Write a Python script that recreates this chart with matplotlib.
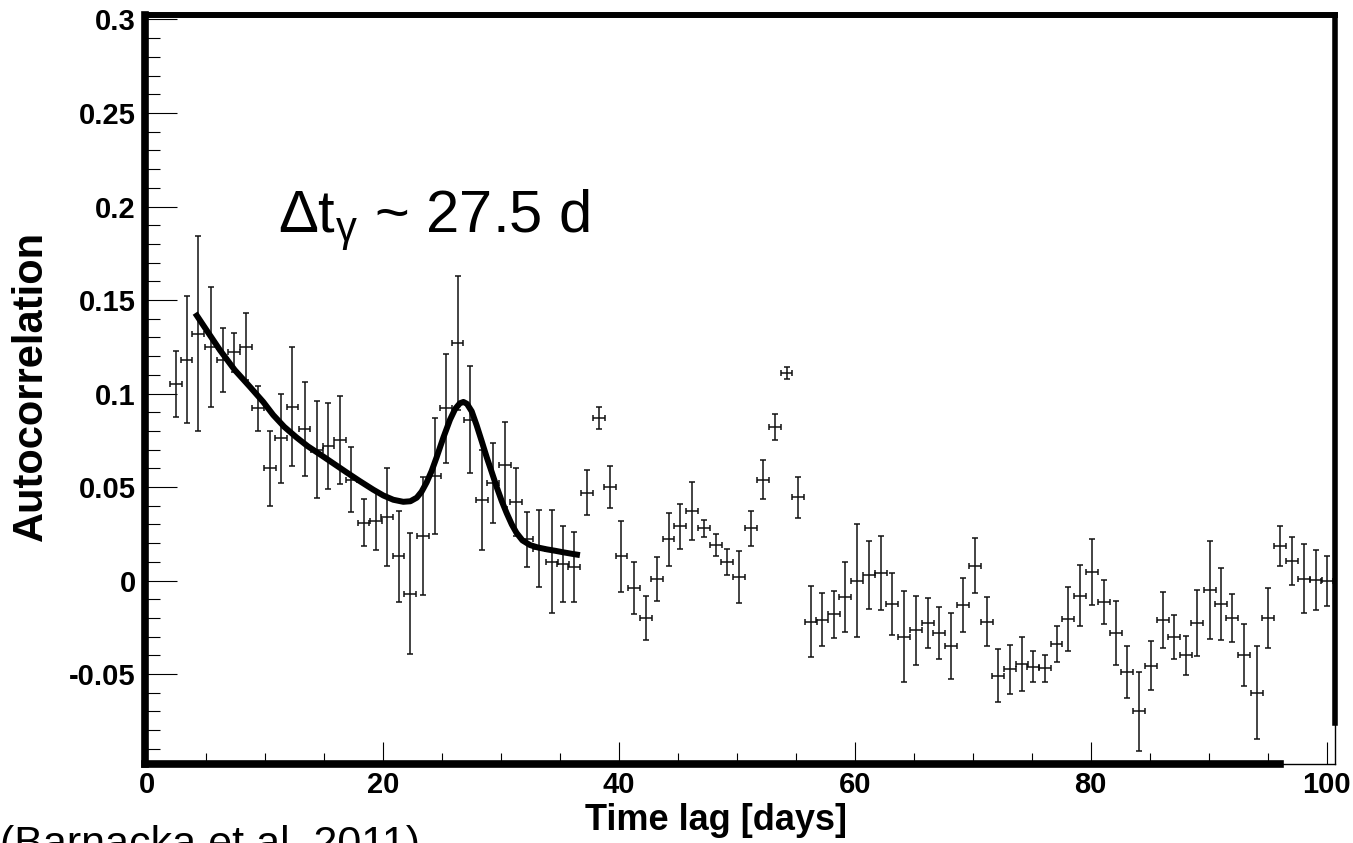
import numpy as np
import matplotlib
matplotlib.use('Agg')
import matplotlib.pyplot as plt
from matplotlib.ticker import MultipleLocator, FuncFormatter

plt.rcParams['font.family'] = ['Liberation Sans', 'DejaVu Sans']
plt.rcParams['mathtext.fontset'] = 'custom'
plt.rcParams['mathtext.rm'] = 'Liberation Sans'
plt.rcParams['mathtext.it'] = 'Liberation Sans:italic'
plt.rcParams['axes.unicode_minus'] = False

# time lag of each autocorrelation bin [days]
lag = [2.40, 3.32, 4.30, 5.37, 6.37, 7.37, 8.35, 9.35, 10.37, 11.35,
       12.30, 13.32, 14.35, 15.35, 16.30, 17.30, 18.33, 19.37, 20.30, 21.30,
       22.26, 23.34, 24.36, 25.30, 26.30, 27.35, 28.35, 29.33, 30.30, 31.26,
       32.20, 33.23, 34.28, 35.27, 36.20, 37.25, 38.30, 39.25, 40.20, 41.26,
       42.28, 43.24, 44.20, 45.17, 46.20, 47.20, 48.20, 49.18, 50.20, 51.19,
       52.23, 53.20, 54.20, 55.20, 56.25, 57.20, 58.20, 59.19, 60.15, 61.20,
       62.20, 63.17, 64.14, 65.16, 66.17, 67.16, 68.15, 69.14, 70.20, 71.18,
       72.16, 73.13, 74.15, 75.10, 76.10, 77.10, 78.10, 79.10, 80.14, 81.13,
       82.12, 83.10, 84.12, 85.10, 86.10, 87.07, 88.06, 89.04, 90.12, 91.05,
       92.00, 93.03, 94.08, 95.06, 96.05, 97.10, 98.10, 99.08, 100.07]

acf = [0.105, 0.118, 0.132, 0.125, 0.118, 0.122, 0.125, 0.092, 0.060, 0.076,
       0.093, 0.081, 0.070, 0.072, 0.075, 0.054, 0.031, 0.032, 0.034, 0.013,
       -0.007, 0.024, 0.056, 0.092, 0.127, 0.086, 0.043, 0.052, 0.062, 0.042,
       0.022, 0.017, 0.010, 0.009, 0.007, 0.047, 0.087, 0.050, 0.013, -0.004,
       -0.020, 0.001, 0.022, 0.029, 0.037, 0.028, 0.019, 0.010, 0.002, 0.028,
       0.054, 0.082, 0.111, 0.0445, -0.022, -0.021, -0.018, -0.009, 0.000, 0.003,
       0.004, -0.0125, -0.030, -0.0265, -0.0225, -0.028, -0.035, -0.013, 0.008, -0.022,
       -0.051, -0.0475, -0.0445, -0.046, -0.047, -0.034, -0.0205, -0.008, 0.0045, -0.0115,
       -0.028, -0.049, -0.070, -0.0455, -0.021, -0.030, -0.040, -0.0225, -0.005, -0.0125,
       -0.020, -0.040, -0.060, -0.020, 0.0185, 0.0105, 0.001, 0.0003, -0.0003]

acf_err = [0.0175, 0.034, 0.052, 0.032, 0.017, 0.0105, 0.018, 0.012, 0.020, 0.024,
           0.032, 0.025, 0.026, 0.023, 0.0235, 0.0173, 0.0125, 0.0156, 0.026, 0.0243,
           0.0323, 0.0315, 0.031, 0.029, 0.036, 0.0286, 0.0266, 0.0214, 0.0229, 0.018,
           0.0147, 0.0207, 0.0275, 0.0204, 0.0187, 0.012, 0.0058, 0.0111, 0.019, 0.0141,
           0.0116, 0.0118, 0.0143, 0.012, 0.0155, 0.0045, 0.006, 0.0069, 0.0138, 0.0093,
           0.0105, 0.007, 0.0034, 0.011, 0.0189, 0.0142, 0.0126, 0.0187, 0.0303, 0.018,
           0.020, 0.0168, 0.0243, 0.0184, 0.0134, 0.0138, 0.0175, 0.0146, 0.0145, 0.013,
           0.0142, 0.0133, 0.0143, 0.0084, 0.0071, 0.0098, 0.017, 0.0163, 0.0176, 0.012,
           0.0173, 0.0138, 0.021, 0.0132, 0.015, 0.0117, 0.0103, 0.0176, 0.026, 0.0192,
           0.013, 0.0165, 0.0248, 0.016, 0.0107, 0.0128, 0.0186, 0.016, 0.0133]

bin_half = 0.5  # half width of a lag bin [days]

# fitted model
fit_lag = [4.05, 5.0, 6.15, 7.4, 8.69, 9.82, 10.67, 11.6, 12.65, 13.6, 14.63, 15.8,
           16.9, 18.0, 19.15, 20.0, 20.85, 21.7, 22.3, 22.84, 23.25, 23.68, 24.1,
           24.53, 25.1, 25.66, 26.1, 26.5, 26.8, 27.1, 27.5, 27.92, 28.35, 28.77,
           29.2, 29.62, 30.05, 30.47, 30.9, 31.3, 31.8, 32.44, 33.1, 33.86, 34.6,
           35.27, 36.0, 36.68]
fit_acf = [0.143, 0.134, 0.1232, 0.1126, 0.1036, 0.0955, 0.0885, 0.0822, 0.0765, 0.0718,
           0.0675, 0.0625, 0.0578, 0.0532, 0.0486, 0.0455, 0.0432, 0.0421, 0.0424, 0.0443,
           0.0475, 0.0525, 0.0585, 0.0660, 0.0765, 0.0860, 0.0918, 0.0948, 0.0955, 0.0945,
           0.0905, 0.0830, 0.0745, 0.0660, 0.0580, 0.0500, 0.0425, 0.0360, 0.0300, 0.0255,
           0.0215, 0.0190, 0.0177, 0.0167, 0.0159, 0.0151, 0.0143, 0.0136]

fig = plt.figure(figsize=(13.53, 8.43), dpi=100)
ax = fig.add_axes([0.1075, 0.0937, 0.8792, 0.8885])

ax.errorbar(lag, acf, xerr=bin_half, yerr=acf_err, fmt='none', ecolor='#111111',
            elinewidth=1.1, capsize=2.3, capthick=1.1, zorder=2)
ax.plot(fit_lag, fit_acf, color='black', lw=4.3, solid_capstyle='butt',
        solid_joinstyle='round', zorder=3)

ax.set_xlim(-0.17, 100.72)
ax.set_ylim(-0.0981, 0.3024)

ax.xaxis.set_major_locator(MultipleLocator(20))
ax.xaxis.set_minor_locator(MultipleLocator(5))
ax.yaxis.set_major_locator(MultipleLocator(0.05))
ax.yaxis.set_minor_locator(MultipleLocator(0.01))
ax.yaxis.set_major_formatter(FuncFormatter(lambda v, p: f'{round(v, 3):g}'))
ax.xaxis.set_major_formatter(FuncFormatter(lambda v, p: f'{round(v):d}'))

ax.tick_params(axis='both', which='both', direction='in', top=False, right=False,
               width=0.8, color='black')
ax.tick_params(axis='y', which='major', length=23, pad=7, labelsize=21)
ax.tick_params(axis='y', which='minor', length=11)
ax.tick_params(axis='x', which='major', length=16, pad=5, labelsize=21)
ax.tick_params(axis='x', which='minor', length=8)
for lbl in ax.get_xticklabels() + ax.get_yticklabels():
    lbl.set_fontweight('bold')

for s in ax.spines.values():
    s.set_linewidth(1.0)
    s.set_color('black')

# thick ROOT-style frame (bottom-right corner is left thin as in the original)
ax.plot([0, 0], [0, 1], transform=ax.transAxes, color='black', lw=5.5,
        solid_capstyle='projecting', clip_on=False, zorder=4)
ax.plot([0, 1], [1, 1], transform=ax.transAxes, color='black', lw=4.3,
        solid_capstyle='projecting', clip_on=False, zorder=4)
ax.plot([1, 1], [-0.0762, 0.3024], transform=ax.get_yaxis_transform(), color='black',
        lw=4.0, solid_capstyle='projecting', clip_on=False, zorder=4)
ax.plot([-0.17, 96.05], [0, 0], transform=ax.get_xaxis_transform(), color='black',
        lw=5.5, solid_capstyle='projecting', clip_on=False, zorder=4)

ax.set_ylabel('Autocorrelation', fontsize=30, fontweight='bold', va='center')
ax.yaxis.set_label_coords(-0.0963, 0.5047)
ax.set_xlabel('Time lag [days]', fontsize=26, fontweight='bold')
ax.xaxis.set_label_coords(0.4796, -0.052)

ax.text(11.07, 0.1858, r'$\Delta$t$_{\mathrm{\gamma}}$ ~ 27.5 d', fontsize=43,
        ha='left', va='baseline')

fig.text(0.0, 1 - 856 / 843, '(Barnacka et al. 2011)', fontsize=31,
         ha='left', va='baseline')

fig.savefig('out.png', dpi=100)
